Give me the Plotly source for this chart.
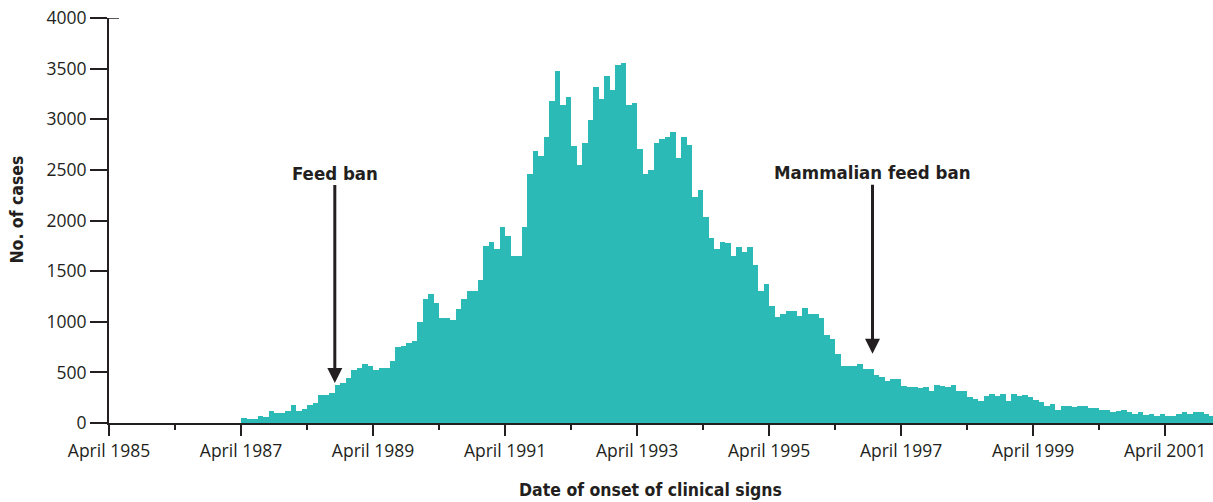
import plotly.graph_objects as go

# Monthly BSE cases by date of onset, first bar = April 1987
first_year, first_month = 1987, 4
cases = [
    46, 44, 40, 69, 56, 118, 99, 99, 120, 178, 118, 141,          # Apr 1987 - Mar 1988
    181, 200, 276, 276, 293, 375, 395, 444, 520, 543, 579, 560,   # Apr 1988 - Mar 1989
    520, 543, 543, 616, 754, 760, 793, 810, 995, 1228, 1277, 1185,  # Apr 1989 - Mar 1990
    1034, 1034, 1014, 1129, 1225, 1300, 1300, 1415, 1751, 1791, 1715, 1939,  # Apr 1990 -
    1843, 1653, 1653, 1939, 2462, 2690, 2640, 2825, 3183, 3480, 3144, 3220,  # Apr 1991 -
    2732, 2545, 2765, 2992, 3315, 3200, 3424, 3292, 3539, 3560, 3144, 3160,  # Apr 1992 -
    2709, 2462, 2502, 2765, 2805, 2821, 2877, 2617, 2821, 2749, 2229, 2301,  # Apr 1993 -
    2034, 1827, 1718, 1791, 1778, 1646, 1735, 1685, 1735, 1564, 1307, 1376,  # Apr 1994 -
    1152, 1044, 1076, 1110, 1110, 1060, 1136, 1076, 1076, 1036, 871, 829,    # Apr 1995 -
    681, 566, 566, 566, 586, 533, 533, 471, 454, 411, 435, 435,              # Apr 1996 -
    362, 359, 359, 350, 356, 316, 379, 370, 359, 379, 316, 316,              # Apr 1997 -
    260, 240, 221, 263, 286, 270, 283, 221, 283, 263, 280, 260,              # Apr 1998 -
    224, 207, 165, 188, 132, 168, 168, 160, 168, 168, 148, 148,              # Apr 1999 -
    128, 128, 109, 120, 128, 109, 92, 109, 80, 92, 72, 92,                   # Apr 2000 -
    72, 72, 89, 109, 92, 109, 109, 89, 72,                                   # Apr 2001 - Dec 2001
]

axis_start_year = 1985  # axis origin = April 1985
tick_years = list(range(1985, 2002, 2))
tick_labels = [f"April {y}" for y in tick_years]
y_ticks = list(range(0, 4001, 500))

events = ["Feed ban", "Mammalian feed ban"]
event_month = [41.05, 138.8]      # months after April 1985
event_cases = [395, 684]

# month offset from the axis origin, bar centred in its month
offset0 = (first_year - axis_start_year) * 12 + (first_month - 4)
x_vals = [offset0 + i + 0.5 for i in range(len(cases))]

ink = "#231F20"
teal = "#2BBAB6"
tick_font = dict(family="Open Sans, Noto Sans, sans-serif", size=17.5, color=ink)
bold_family = "Liberation Sans Narrow, DejaVu Sans Condensed, Arial Narrow, sans-serif"
title_font = dict(family=bold_family, size=17.5, color=ink)
note_font = dict(family=bold_family, size=18.5, color=ink)

fig = go.Figure(go.Bar(x=x_vals, y=cases, width=1.0, marker=dict(color=teal, line=dict(width=0)),
                       hoverinfo="x+y"))

fig.update_layout(
    width=1213, height=502,
    margin=dict(l=109, r=0, t=18, b=79),
    plot_bgcolor="white", paper_bgcolor="white",
    bargap=0, showlegend=False,
)

fig.update_xaxes(
    range=[0, 200.7],
    tickmode="array",
    tickvals=[(y - axis_start_year) * 12 for y in tick_years],
    ticktext=tick_labels,
    ticks="outside", ticklen=11, tickwidth=1.5, tickcolor=ink,
    minor=dict(tickmode="linear", tick0=0, dtick=12, ticks="outside", ticklen=5,
               tickwidth=1.5, tickcolor=ink),
    showline=True, linecolor=ink, linewidth=1.8,
    showgrid=False, zeroline=False,
    tickfont=tick_font,
)
fig.update_yaxes(
    range=[0, 4000],
    tickmode="array", tickvals=y_ticks,
    ticks="outside", ticklen=17, tickwidth=1.5, tickcolor=ink,
    showline=True, linecolor=ink, linewidth=1.8,
    showgrid=False, zeroline=False,
    tickfont=tick_font,
)

# short cap to the right of the axis at the top tick
fig.add_shape(type="line", xref="paper", yref="y", x0=0, x1=10 / 1104, y0=4000, y1=4000,
              line=dict(color=ink, width=1.5))

fig.add_annotation(text="<b>No. of cases</b>", xref="paper", yref="paper",
                   x=-0.0833, y=0.527, textangle=-90, showarrow=False,
                   xanchor="center", yanchor="middle", font=title_font)
fig.add_annotation(text="<b>Date of onset of clinical signs</b>", xref="paper", yref="paper",
                   x=0.4907, y=-0.165, showarrow=False,
                   xanchor="center", yanchor="middle", font=title_font)

for label, mx, my in zip(events, event_month, event_cases):
    fig.add_annotation(text=f"<b>{label}</b>", x=mx, y=my, xref="x", yref="y",
                       showarrow=True, arrowhead=2, arrowsize=1, arrowwidth=3,
                       arrowcolor=ink, ax=0, ay=-210 if label == "Feed ban" else -181,
                       font=note_font)

fig.write_html("out.html", config={"displayModeBar": False},
               post_script="document.body.style.margin='0';")
